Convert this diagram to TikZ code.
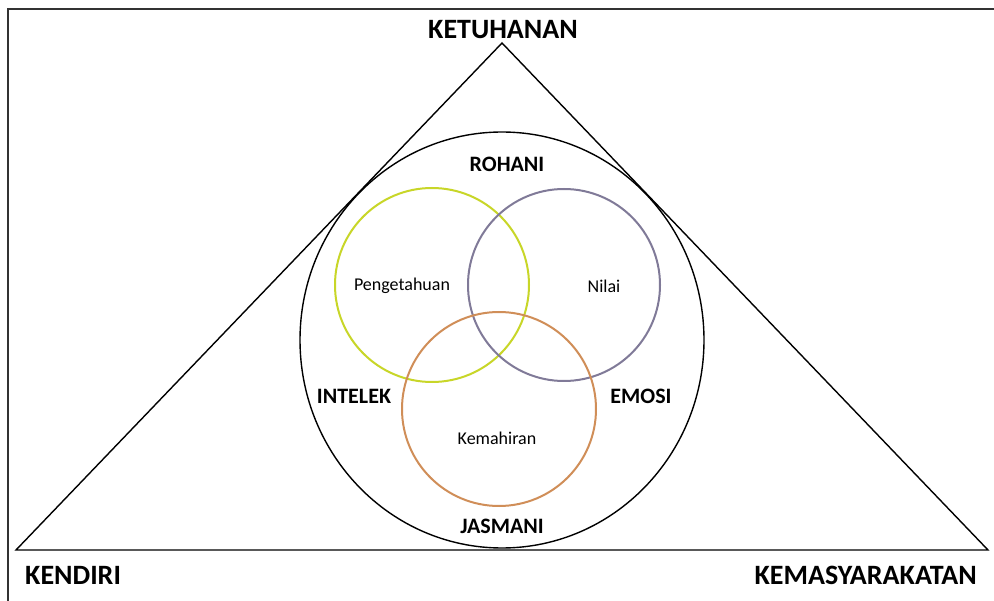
\documentclass[tikz,border=0pt]{standalone}
\usepackage{fontspec}
\setmainfont{Carlito}
\usetikzlibrary{shapes.geometric}
\begin{document}
\begin{tikzpicture}[x=1pt,y=-1pt,
  outerlabel/.style={font=\fontsize{28}{30}\selectfont\bfseries, inner sep=0pt},
  innerlabel/.style={font=\fontsize{22}{24}\selectfont\bfseries, inner sep=0pt},
  vennlabel/.style={font=\fontsize{18}{20}\selectfont, inner sep=0pt},
  frameline/.style={draw=black!80, line width=2.2pt},
  outline/.style={draw=black, line width=1.4pt},
  venn/.style={line width=2pt, circle, inner sep=0pt}]
\useasboundingbox (0,0) rectangle (994,601);
\fill[white] (0,0) rectangle (994,601);

% frame along the top and left edges
\draw[frameline] (994,9) -- (8,9) -- (8,601);

% triangle
\coordinate (apex) at (502,43);
\coordinate (bl) at (16,550);
\coordinate (br) at (988,550);
\draw[outline, line join=miter] (apex) -- (bl) -- (br) -- cycle;

% enclosing round outline
\node[outline, ellipse, minimum width=404pt, minimum height=416pt, inner sep=0pt] (whole) at (502,340) {};

% three overlapping circles
\node[venn, draw={rgb,255:red,200;green,214;blue,40}, minimum size=194pt] (know) at (432,285) {};
\node[venn, draw={rgb,255:red,128;green,122;blue,152}, minimum size=192pt] (value) at (564,285) {};
\node[venn, draw={rgb,255:red,208;green,142;blue,88}, minimum size=194pt] (skill) at (499,409) {};

% labels
\node[outerlabel] (god) at (503,30) {KETUHANAN};
\node[outerlabel, anchor=west] (self) at (25,575) {KENDIRI};
\node[outerlabel, anchor=east] (society) at (977,575) {KEMASYARAKATAN};

\node[innerlabel] (spirit) at (507,164) {ROHANI};
\node[innerlabel] (intellect) at (354,396) {INTELEK};
\node[innerlabel] (emotion) at (641,396) {EMOSI};
\node[innerlabel] (body) at (502,526) {JASMANI};

\node[vennlabel] (knowtext) at (402,286) {Pengetahuan};
\node[vennlabel] (valuetext) at (604,286) {Nilai};
\node[vennlabel] (skilltext) at (497,438) {Kemahiran};
\end{tikzpicture}
\end{document}
